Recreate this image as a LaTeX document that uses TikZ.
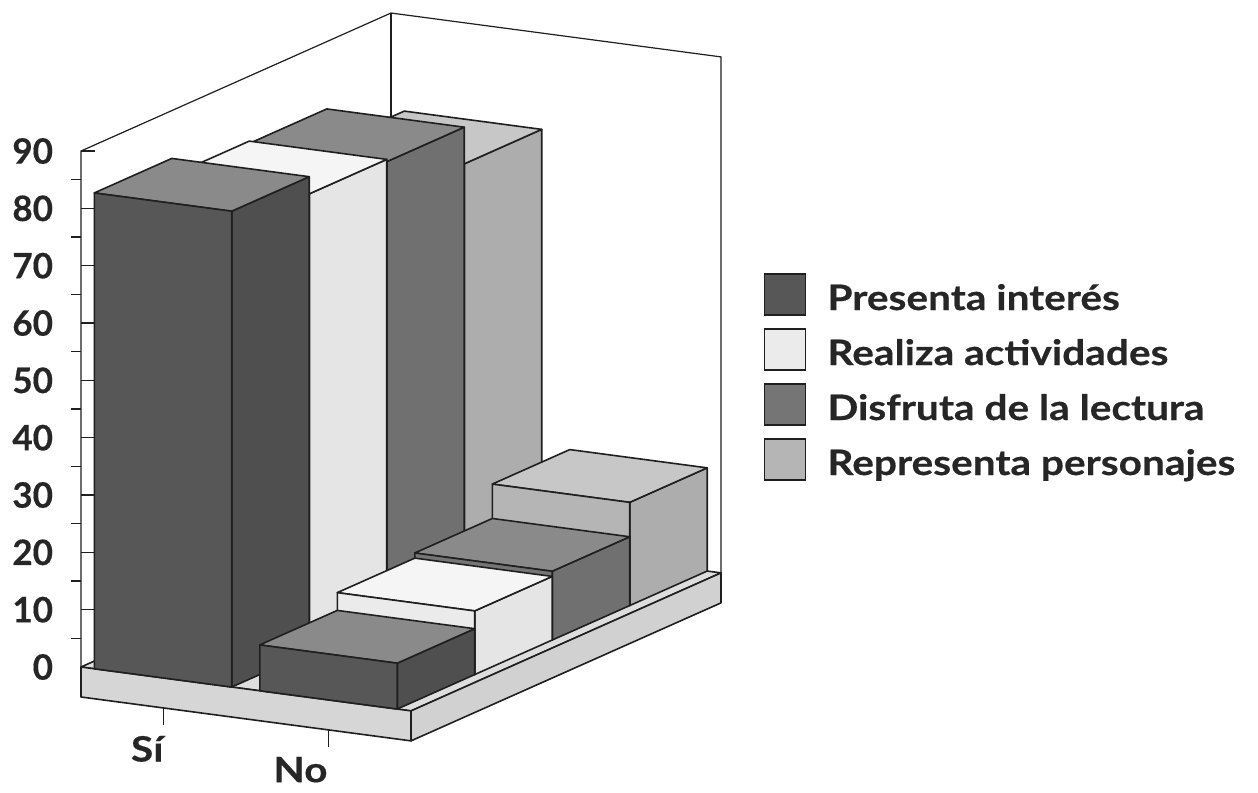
\documentclass[tikz,border=0pt]{standalone}
\usepackage{fontspec}
\setmainfont{Lato}
\newfontfamily\chartfont{Lato}[FakeBold=0.4]
\newfontfamily\legendfont{Lato}[FakeStretch=1.16, FakeBold=0.4]
\usetikzlibrary{positioning}

\definecolor{presfront}{gray}{0.34}
\definecolor{presside}{gray}{0.31}
\definecolor{prestop}{gray}{0.54}
\definecolor{realfront}{gray}{0.92}
\definecolor{realside}{gray}{0.90}
\definecolor{realtop}{gray}{0.96}
\definecolor{disffront}{gray}{0.46}
\definecolor{disfside}{gray}{0.44}
\definecolor{disftop}{gray}{0.54}
\definecolor{reprfront}{gray}{0.71}
\definecolor{reprside}{gray}{0.68}
\definecolor{reprtop}{gray}{0.78}
\definecolor{slabfront}{gray}{0.84}
\definecolor{slabside}{gray}{0.82}
\definecolor{slabtop}{gray}{0.87}
\definecolor{inkline}{gray}{0.12}

\newcommand*{\barwd}{137.4}
\newcommand*{\drawbar}[4]{%
  \filldraw[barface, fill=#4side] (#1+\barwd,0,#2) -- (#1+\barwd,0,#2+1) -- (#1+\barwd,#3,#2+1) -- (#1+\barwd,#3,#2) -- cycle;
  \filldraw[barface, fill=#4top] (#1,#3,#2) -- (#1+\barwd,#3,#2) -- (#1+\barwd,#3,#2+1) -- (#1,#3,#2+1) -- cycle;
  \filldraw[barface, fill=#4front] (#1,0,#2) -- (#1+\barwd,0,#2) -- (#1+\barwd,#3,#2) -- (#1,#3,#2) -- cycle;
}

\begin{document}
\begin{tikzpicture}[
      x=1bp, y=-1bp,
      barface/.style={draw=inkline, line width=1.6bp, line join=round},
      wall/.style={draw=inkline, line width=1.2bp},
      chartfont/.style={font=\chartfont\fontsize{35bp}{40bp}\selectfont\bfseries, text=black!85, inner sep=0pt, outer sep=0pt},
      ticklab/.style={chartfont},
      catlab/.style={chartfont, font=\legendfont\fontsize{35bp}{40bp}\selectfont\bfseries},
      legbox/.style={draw=inkline, line width=1.4bp, minimum size=41bp, inner sep=0pt, outer sep=0pt},
      legtext/.style={chartfont, font=\legendfont\fontsize{35bp}{40bp}\selectfont\bfseries, text height=25bp, text depth=0pt, anchor=west},
      ]
      \useasboundingbox (0,0) rectangle (1258,793);

      \begin{scope}[shift={(81,667)}, x={(1bp,-0.133bp)}, y={(0bp,5.733bp)}, z={(77.5bp,34.5bp)}]
        \draw[wall] (0,0,0) coordinate (orig) -- (0,90,0) coordinate (ytop) -- (0,90,4) coordinate (backtop)
          -- (330,90,4) coordinate (righttop) -- (330,0,4) coordinate (rightfoot);
        \draw[wall] (backtop) -- (0,0,4);
        \foreach \v in {10,20,...,90} {
          \draw[wall] (0,\v,0) -- ++(14bp,0bp);
          \node[ticklab, left=28bp] (y\v) at (0,\v,0) {\v};
        }
        \node[ticklab, left=28bp] (y0) at (orig) {0};
        \foreach \v in {5,15,...,85}
          \draw[wall] (0,\v,0) -- ++(-10bp,0bp);

        \filldraw[barface, fill=slabtop] (0,0,0) -- (330,0,0) -- (330,0,4) -- (0,0,4) -- cycle;
        \filldraw[barface, fill=slabfront] (0,0,0) -- (330,0,0) -- (330,-5.23,0) -- (0,-5.23,0) -- cycle;
        \filldraw[barface, fill=slabside] (330,0,0) -- (330,0,4) -- (330,-5.23,4) -- (330,-5.23,0) -- cycle;

        \foreach \d/\vsi/\vno/\ser in {3/73.2/18/repr, 2/79.6/12/disf, 1/80/11.1/real, 0/83/8/pres} {
          \drawbar{13.3}{\d}{\vsi}{\ser}
          \drawbar{178.8}{\d}{\vno}{\ser}
        }

        \draw[wall] (82.5,-5.23,0) -- ++(0bp,-17bp) coordinate (sitick);
        \draw[wall] (247.5,-5.23,0) -- ++(0bp,-17bp) coordinate (notick);
      \end{scope}

      \node[catlab, below left=11bp and 0bp of sitick] (si) {Sí};
      \node[catlab, below left=10bp and 1bp of notick] (no) {No};

      \node[legbox, fill=presfront] (kpres) at (785,294.5) {};
      \node[legbox, fill=realfront, below=14bp of kpres] (kreal) {};
      \node[legbox, fill=disffront, below=14bp of kreal] (kdisf) {};
      \node[legbox, fill=reprfront, below=14bp of kdisf] (krepr) {};
      \node[legtext, right=22bp of kpres, yshift=-3bp] (tpres) {Presenta interés};
      \node[legtext, right=22bp of kreal, yshift=-3bp] (treal) {Realiza actividades};
      \node[legtext, right=22bp of kdisf, yshift=-3bp] (tdisf) {Disfruta de la lectura};
      \node[legtext, right=22bp of krepr, yshift=-3bp] (trepr) {Representa personajes};
    \end{tikzpicture}
\end{document}
